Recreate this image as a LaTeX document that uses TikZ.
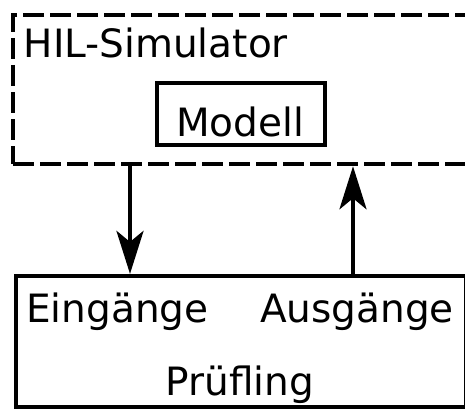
\documentclass[tikz,border=0pt]{standalone}
\usepackage{fontspec}
\setmainfont{DejaVu Sans}
\usetikzlibrary{arrows.meta}
\begin{document}
\begin{tikzpicture}[x=1pt,y=-1pt,
  every node/.style={font=\fontsize{39}{41}\selectfont, inner sep=0pt},
  box/.style={draw, line width=4.2pt, rectangle},
  dashbox/.style={draw, line width=4.5pt, rectangle, dash pattern=on 21pt off 6pt},
  label/.style={anchor=base},
  flow/.style={line width=4.2pt, -{Stealth[length=43pt, width=27pt, inset=11pt]}}]
  \useasboundingbox (0,0) rectangle (465,412);
  \clip (0,0) rectangle (465,412);
  % simulator frame and the model inside it
  \node[dashbox, minimum width=454pt, minimum height=149pt] (sim) at (240,89.5) {};
  \node[box, minimum width=168pt, minimum height=62pt] (modell) at (241,114) {};
  \node[anchor=base west] (simlabel) at (23.5,57) {HIL-Simulator};
  \node[label] (modelllabel) at (240,136) {Modell};
  % device under test
  \node[box, minimum width=450pt, minimum height=131pt] (dut) at (241,341.5) {};
  \node[label] (ein) at (117.5,322) {Eingänge};
  \node[label] (aus) at (357,322) {Ausgänge};
  \node[label] (pruef) at (240,395) {Prüfling};
  % signal connections between the two frames
  \coordinate (downx) at (130,0);
  \coordinate (upx) at (353,0);
  \draw[flow] (downx |- sim.south) -- (downx |- dut.north);
  \draw[flow] (upx |- dut.north) -- (upx |- sim.south);
\end{tikzpicture}
\end{document}
